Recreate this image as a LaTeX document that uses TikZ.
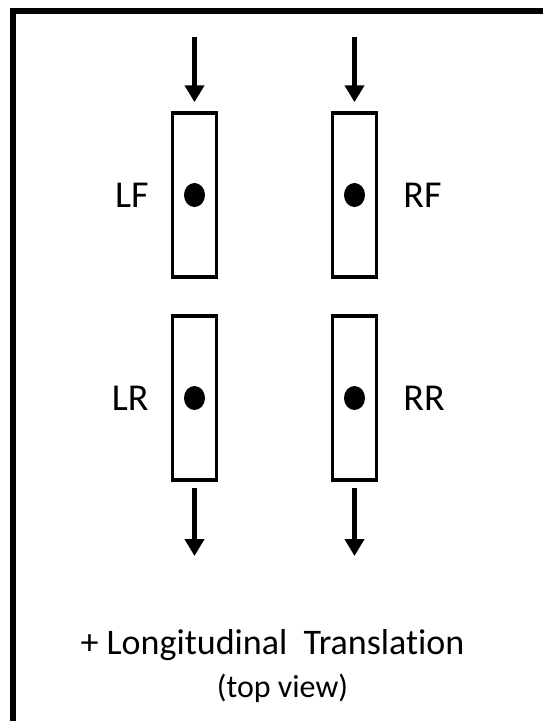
\documentclass[tikz,border=0pt]{standalone}
\usepackage{fontspec}
\setmainfont{Carlito}[Ligatures=NoCommon]
\usetikzlibrary{positioning,shapes.geometric,arrows.meta}

\begin{document}
\begin{tikzpicture}[x=1pt,y=-1pt,
  wheel/.style={draw,rectangle,line width=3.5pt,inner sep=0pt,minimum width=44pt,minimum height=164pt},
  hub/.style={fill,ellipse,inner sep=0pt,minimum width=21pt,minimum height=24pt},
  tag/.style={inner sep=0pt,font=\fontsize{38}{44}\selectfont},
  push/.style={line width=5.5pt,-{Triangle[width=19pt,length=17pt]},shorten >=9pt}]
\useasboundingbox (0,0) rectangle (543,721);
\draw [line width=6pt] (12.5,721) -- (12.5,11) -- (543,11);
% wheels
\node (lf) [wheel] at (194.5,195) {};
\node (rf) [wheel] at (354.5,195) {};
\node (lr) [wheel] at (194.5,398) {};
\node (rr) [wheel] at (354.5,398) {};
\node (lfhub) [hub] at (lf.center) {};
\node (rfhub) [hub] at (rf.center) {};
\node (lrhub) [hub] at (lr.center) {};
\node (rrhub) [hub] at (rr.center) {};
\node (lflabel) [tag,left=22pt of lf] {LF};
\node (rflabel) [tag,right=25pt of rf] {RF};
\node (lrlabel) [tag,left=22pt of lr] {LR};
\node (rrlabel) [tag,right=25pt of rr] {RR};
% motion
\coordinate (lfin) at (194.5,37);
\coordinate (rfin) at (354.5,37);
\draw [push] (lfin) -- (lf.north);
\draw [push] (rfin) -- (rf.north);
\coordinate (lrout) at (194.5,556);
\coordinate (rrout) at (354.5,556);
\draw [push,shorten >=0pt] (lr.south) ++(0,6) coordinate (lrstart) (lrstart) -- (lrout);
\draw [push,shorten >=0pt] (rr.south) ++(0,6) coordinate (rrstart) (rrstart) -- (rrout);
% caption
\node (title) [anchor=base,inner sep=0pt,font=\fontsize{36}{43}\selectfont] at (272.5,654) {+ Longitudinal\ \ Translation};
\node (view) [anchor=base,inner sep=0pt,font=\fontsize{32}{38}\selectfont] at (282.5,697) {(top view)};
\end{tikzpicture}
\end{document}
